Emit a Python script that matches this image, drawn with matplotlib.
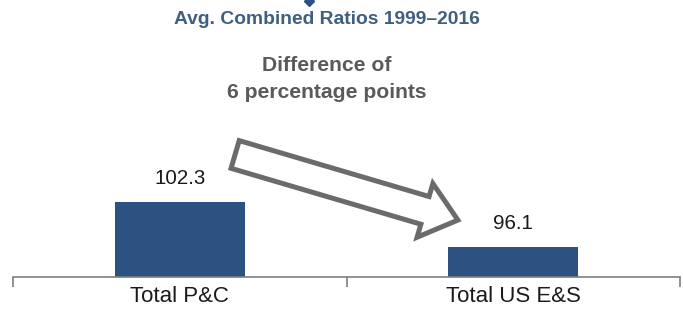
import matplotlib
matplotlib.use('Agg')
import matplotlib.pyplot as plt
from matplotlib.patches import FancyArrowPatch

# 数据
categories = ['Total P&C', 'Total US E&S']
ratios = [102.3, 96.1]
title = 'Avg. Combined Ratios 1999\u20132016'
note = 'Difference of\n6 percentage points'

plt.rcParams['font.family'] = ['Liberation Sans', 'DejaVu Sans']

bar_color = '#2b5280'
gray = '#7f7f7f'

fig = plt.figure(figsize=(6.83, 3.15), dpi=100)
ax = fig.add_axes([13 / 683, 38 / 315, 667 / 683, 277 / 315])

x = list(range(len(categories)))
ax.bar(x, ratios, width=0.39, color=bar_color, zorder=2)
for xi, v in zip(x, ratios):
    ax.text(xi, v + 2.0, '%.1f' % v, ha='center', va='bottom', fontsize=14.8, color='#1a1a1a')

ax.set_xlim(-0.5, 1.5)
ax.set_ylim(92, 130.2)

# 坐标轴样式
for s in ['top', 'right', 'left']:
    ax.spines[s].set_visible(False)
ax.spines['bottom'].set_color(gray)
ax.spines['bottom'].set_linewidth(1.2)
ax.set_yticks([])
ax.set_xticks([-0.5, 0.5, 1.5])
ax.set_xticklabels([])
ax.tick_params(axis='x', direction='out', length=7, width=1.2, color=gray)
for xi, c in zip(x, categories):
    ax.text(xi, 92 - 1.3, c, ha='center', va='top', fontsize=16, color='#1a1a1a')

# 箭头
arrow = FancyArrowPatch((0.166, 108.9), (0.834, 99.85),
                        arrowstyle='simple,head_width=3.1,head_length=1.9,tail_width=1.6',
                        mutation_scale=13, facecolor='white', edgecolor='#6b6b6b',
                        linewidth=3.6, shrinkA=0, shrinkB=0, zorder=3, joinstyle='miter')
ax.add_patch(arrow)

fig.text(327 / 683, 1 - 19 / 315, title, ha='center', va='center', fontsize=13.9,
         fontweight='bold', color='#3f5f80')
fig.text(327 / 683, 1 - 79 / 315, note, ha='center', va='center', fontsize=15.2,
         fontweight='bold', color='#5a5a5a', linespacing=1.5)
fig.add_artist(plt.Line2D([309 / 683], [1 - 1 / 315], marker='D', markersize=5,
                          color='#2b5280', transform=fig.transFigure))

fig.savefig('out.png', dpi=100, facecolor='white')
